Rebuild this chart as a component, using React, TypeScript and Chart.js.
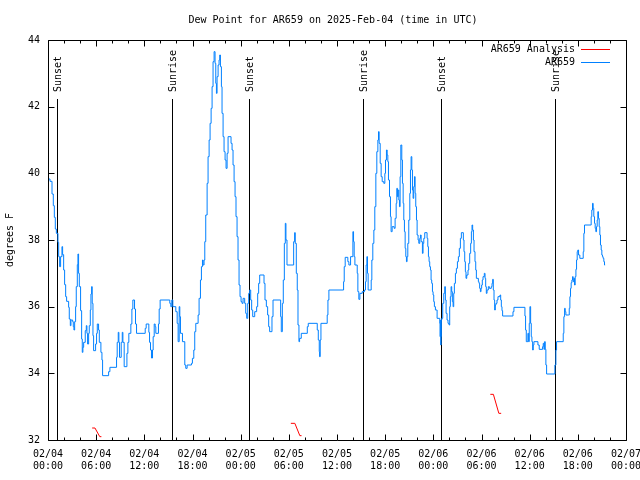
import React, { useEffect, useRef } from 'react';
import { Chart, registerables } from 'chart.js';

Chart.register(...registerables);

const FONT = '"DejaVu Sans Mono", "Liberation Mono", monospace';

const titleText = 'Dew Point for AR659 on 2025-Feb-04 (time in UTC)';
const yAxisTitle = 'degrees F';

// hours since 2025-02-04 00:00 UTC
const obsHours = [
  0, 0.25, 0.5, 0.66, 0.79, 0.91, 1.04, 1.24, 1.33, 1.45, 1.57, 1.74, 1.82, 1.95, 2.07, 2.2, 2.32, 2.57, 2.65, 2.78,
  2.86, 3.07, 3.15, 3.23, 3.32, 3.44, 3.52, 3.65, 3.73, 3.81, 3.9, 4.06, 4.19, 4.27, 4.35, 4.44, 4.64, 4.77, 4.85, 4.93,
  5.06, 5.14, 5.27, 5.35, 5.43, 5.51, 5.6, 5.68, 5.93, 6.05, 6.14, 6.3, 6.39, 6.59, 6.72, 6.8, 7.55, 7.71, 8.54, 8.62,
  8.75, 8.83, 8.91, 9.12, 9.25, 9.33, 9.49, 9.83, 9.95, 10.07, 10.32, 10.45, 10.57, 10.78, 10.9, 11.03, 12.11, 12.23, 12.56, 12.65,
  12.77, 12.89, 13.02, 13.1, 13.23, 13.35, 13.43, 13.76, 13.85, 13.97, 15.17, 15.3, 15.42,
  15.55, 15.92, 16.09, 16.21, 16.34, 16.42, 16.5, 16.75, 17.04, 17.16, 17.33, 17.87, 17.99, 18.16, 18.28, 18.41, 18.7, 18.82, 18.99, 19.11,
  19.24, 19.32, 19.44, 19.53, 19.65, 19.82, 19.94, 20.07, 20.19, 20.32, 20.44, 20.56, 20.69, 20.81, 20.9, 20.98, 21.06, 21.19, 21.31, 21.39,
  21.48, 21.6, 21.68, 21.81, 21.93, 22.06, 22.18, 22.31, 22.43, 22.8, 22.93, 23.05, 23.18, 23.3, 23.42, 23.55, 23.67, 23.8, 23.92, 24.05,
  24.17, 24.3, 24.5, 24.63, 24.75, 24.88, 25.0, 25.12, 25.25, 25.37, 25.5, 25.75, 25.99, 26.12, 26.24, 26.37, 26.91, 27.03, 27.2, 27.36,
  27.49, 27.61, 27.9, 28.03, 28.98, 29.06, 29.19, 29.31, 29.44, 29.56, 29.64, 29.77, 30.6, 30.72, 30.8, 30.93, 31.05, 31.14, 31.26, 31.34,
  31.55, 32.3, 32.42, 33.54, 33.67, 33.79,
  33.83, 33.91, 34.0, 34.78, 34.87, 34.99, 36.82, 36.9, 37.02, 37.35, 37.48, 37.69, 37.98, 38.06, 38.14, 38.23, 38.52, 38.6, 38.72, 38.85,
  39.14, 39.43, 39.55, 39.63, 39.72, 39.8, 39.88, 40.26, 40.34, 40.46, 40.59, 40.71, 40.84, 40.96, 41.09, 41.17, 41.25, 41.38, 41.5, 41.63,
  41.83, 41.96, 42.04, 42.16, 42.25, 42.33, 42.41, 42.54, 42.66, 42.74, 42.87, 43.12, 43.24, 43.37, 43.45, 43.53, 43.62, 43.7, 43.78, 43.86,
  43.95, 44.07, 44.15, 44.24, 44.32, 44.4, 44.49, 44.57, 44.65, 44.73, 44.82, 44.94, 45.07, 45.15, 45.23, 45.32, 45.4, 45.48, 45.56, 45.65,
  45.73, 45.81, 45.9, 45.98, 46.1, 46.19, 46.31, 46.39, 46.48, 46.64, 46.72, 46.81, 46.93, 47.22, 47.31, 47.39, 47.47, 47.55, 47.64, 47.72,
  47.8, 47.89, 47.97, 48.05, 48.13, 48.26, 48.47, 48.8, 48.84, 48.88, 48.92, 48.96, 49.0, 49.05, 49.17, 49.3, 49.42, 49.5, 49.59, 49.71,
  49.83, 49.96, 50.04, 50.12, 50.21, 50.29, 50.37, 50.46, 50.54, 50.62, 50.75, 50.87, 51.0, 51.12, 51.24, 51.37, 51.49,
  51.74, 51.82, 51.91, 51.99, 52.07, 52.16, 52.32, 52.41, 52.53, 52.65, 52.74, 52.82, 52.9, 52.99, 53.07, 53.19, 53.28, 53.36, 53.61, 53.69,
  53.77, 53.86, 53.94, 54.02, 54.1, 54.19, 54.35, 54.44, 54.52, 54.6, 54.69, 54.85, 54.98, 55.22, 55.31, 55.39, 55.47, 55.56, 55.64, 55.72,
  55.8, 55.93, 56.05, 56.3, 56.39, 56.47, 56.55, 56.63, 57.92, 58.04, 59.41, 59.49, 59.58, 59.78, 59.87, 59.95, 60.03, 60.12, 60.2, 60.28,
  60.37, 60.45, 60.53, 61.03, 61.19, 61.61, 61.69, 61.78, 61.86, 61.94, 62.02, 62.11, 63.14, 63.27, 63.35, 64.18, 64.26, 64.35, 64.43, 64.51,
  64.84, 64.93, 65.01, 65.09, 65.17, 65.26, 65.34, 65.42, 65.51, 65.59, 65.67, 65.76, 65.84, 65.92, 66.0, 66.09, 66.25, 66.67, 66.75, 66.83,
  67.66, 67.74, 67.83, 67.91, 67.99, 68.08, 68.16, 68.24, 68.33, 68.41, 68.49, 68.57, 68.66, 68.74, 68.82, 68.91, 68.99, 69.07, 69.15, 69.24,
  69.32, 69.4,
];

const obsDewF = [
  39.83, 39.76, 39.38, 39.03, 38.68, 38.33, 38.2, 37.93, 37.5, 37.2, 37.5, 37.8, 37.56, 37.1, 36.66, 36.3, 36.16, 35.98, 35.63, 35.43,
  35.6, 35.55, 35.4, 35.3, 35.55, 36.0, 36.6, 37.26, 37.58, 37.0, 36.6, 35.88, 35.03, 34.63, 34.78, 34.93, 35.28, 35.43, 35.2, 34.88,
  35.2, 35.43, 35.9, 36.38, 36.6, 36.1, 35.13, 34.68, 34.88, 35.2, 35.48, 35.3, 34.93, 34.63, 34.4, 33.93, 34.05, 34.18, 34.48, 34.93,
  35.23, 34.93, 34.48, 34.93, 35.23, 34.93, 34.2, 34.6, 34.93, 35.2, 35.48, 35.93, 36.2, 35.93, 35.48, 35.2, 35.35, 35.48, 35.23, 34.93,
  34.7, 34.46, 34.7, 35.1, 35.48, 35.4, 35.2, 35.48, 35.93, 36.2, 36.1, 36.0, 36.2,
  36.0, 35.85, 35.5, 34.95, 36.0, 35.7, 35.2, 34.95, 34.25, 34.15, 34.25, 34.3, 34.45, 34.7, 35.25, 35.5, 35.75, 36.25, 36.8, 37.2,
  37.4, 37.25, 37.4, 37.95, 38.75, 39.7, 40.5, 41.0, 41.5, 41.95, 42.6, 43.35, 43.65, 43.3, 42.7, 42.4, 42.9, 43.25, 43.4, 43.55,
  43.2, 42.6, 41.8, 41.1, 40.65, 40.4, 40.15, 40.6, 41.1, 40.9, 40.7, 40.25, 39.75, 39.3, 38.7, 38.1, 37.4, 36.65, 36.3, 36.15,
  36.1, 36.25, 36.1, 35.8, 35.65, 36.1, 36.4, 36.5, 36.2, 35.9, 35.7, 35.85, 36.0, 36.4, 36.7, 36.95, 36.7, 36.2, 36.0, 35.75,
  35.4, 35.25, 35.7, 36.2, 35.7, 35.25, 36.1, 36.8, 37.9, 38.5, 38.0, 37.25, 37.95, 38.22, 37.9, 37.0, 36.5, 35.45, 34.95, 35.05,
  35.2, 35.4, 35.5, 35.3, 35.0, 34.65,
  34.5, 35.0, 35.5, 35.75, 36.2, 36.5, 36.75, 37.2, 37.48, 37.35, 37.25, 37.5, 38.25, 37.95, 37.5, 37.25, 37.0, 36.45, 36.22, 36.4,
  36.45, 36.5, 36.75, 37.25, 37.5, 37.0, 36.5, 36.8, 37.4, 37.9, 38.3, 39.0, 40.0, 40.65, 41.0, 41.25, 40.9, 40.3, 39.9, 39.75,
  39.7, 40.0, 40.4, 40.7, 40.55, 40.35, 39.8, 39.3, 38.7, 38.25, 38.4, 38.35, 38.65, 39.1, 39.55, 39.3, 39.5, 39.2, 39.0, 39.9,
  40.85, 40.4, 39.7, 39.1, 38.6, 38.25, 37.75, 37.5, 37.35, 37.5, 37.9, 38.6, 39.4, 40.1, 40.5, 40.1, 39.5, 39.25, 39.6, 39.9,
  39.4, 39.0, 38.6, 38.15, 38.0, 37.9, 38.05, 38.15, 37.95, 37.6, 37.9, 38.05, 38.22, 38.05, 37.8, 37.5, 37.35, 37.2, 37.1, 36.8,
  36.7, 36.45, 36.35, 36.15, 36.0, 35.9, 35.65, 35.5, 35.1, 35.6, 34.85, 35.1, 35.6, 35.65, 36.1, 36.4, 36.6, 36.2, 35.8, 35.6,
  35.5, 35.45, 36.0, 36.3, 36.6, 36.45, 36.15, 36.0, 36.4, 36.7, 37.0, 37.15, 37.35, 37.5, 37.75, 38.05, 38.22,
  38.0, 37.65, 37.35, 37.05, 36.85, 36.95, 37.1, 37.3, 37.6, 37.9, 38.25, 38.45, 38.3, 38.0, 37.65, 37.35, 37.1, 36.85, 36.75, 36.7,
  36.55, 36.45, 36.55, 36.65, 36.8, 36.9, 37.0, 36.85, 36.6, 36.4, 36.5, 36.6, 36.55, 36.6, 36.7, 36.82, 36.5, 36.2, 35.9, 36.05,
  36.1, 36.2, 36.3, 36.35, 36.2, 36.0, 35.88, 35.72, 35.85, 35.98, 35.72, 35.3, 34.95, 35.2, 34.95, 35.5, 36.0, 35.5, 35.1, 34.95,
  34.7, 34.85, 34.95, 34.85, 34.72, 34.8, 34.9, 34.72, 34.95, 34.72, 34.25, 33.98, 34.25, 34.7, 34.95, 35.2, 35.7, 35.95, 35.85, 35.75,
  35.75, 35.95, 36.3, 36.55, 36.72, 36.8, 36.9, 36.75, 36.85, 36.65, 36.9, 37.12, 37.4, 37.65, 37.7, 37.55, 37.45, 37.65, 38.2, 38.45,
  38.7, 38.9, 39.1, 38.95, 38.7, 38.5, 38.35, 38.25, 38.4, 38.6, 38.85, 38.65, 38.4, 38.15, 37.85, 37.7, 37.55, 37.5, 37.45, 37.35,
  37.25, 37.25,
];

const anaHours = [5.5, 5.85, 6.45, 6.65, 6.7, 30.25, 30.75, 31.37, 31.58, 31.6, 55.1, 55.48, 56.16, 56.45];
const anaDewF = [32.36, 32.36, 32.1, 32.1, null, 32.5, 32.5, 32.13, 32.13, null, 33.37, 33.37, 32.8, 32.8];

const xTickDates = ['02/04', '02/04', '02/04', '02/04', '02/05', '02/05', '02/05', '02/05', '02/06', '02/06', '02/06', '02/06', '02/07'];
const xTickTimes = ['00:00', '06:00', '12:00', '18:00', '00:00', '06:00', '12:00', '18:00', '00:00', '06:00', '12:00', '18:00', '00:00'];

const sunHours = [1.16, 15.41, 25.07, 39.2, 48.99, 63.1];
const sunLabels = ['Sunset', 'Sunrise', 'Sunset', 'Sunrise', 'Sunset', 'Sunrise'];

const decorPlugin = {
  id: 'gnuplotDecor',
  beforeDatasetsDraw(chart: any) {
    const { ctx, chartArea: a, scales } = chart;
    const xs = scales.x;
    ctx.save();
    ctx.strokeStyle = '#000';
    ctx.fillStyle = '#000';
    ctx.lineWidth = 1;
    ctx.font = `10px ${FONT}`;
    sunHours.forEach((h, i) => {
      const px = Math.round(xs.getPixelForValue(h)) + 0.5;
      ctx.beginPath();
      ctx.moveTo(px, a.top + 59);
      ctx.lineTo(px, a.bottom);
      ctx.stroke();
      ctx.save();
      ctx.translate(px + 1, a.top + 52);
      ctx.rotate(-Math.PI / 2);
      ctx.textAlign = 'left';
      ctx.textBaseline = 'middle';
      ctx.fillText(sunLabels[i], 0, 0);
      ctx.restore();
    });
    ctx.restore();
  },
  afterDatasetsDraw(chart: any) {
    const { ctx, chartArea: a, scales } = chart;
    const xs = scales.x;
    const ys = scales.y;
    ctx.save();
    ctx.strokeStyle = '#000';
    ctx.lineWidth = 1;
    const L = Math.round(a.left) + 0.5;
    const R = Math.round(a.right) + 0.5;
    const T = Math.round(a.top) + 0.5;
    const B = Math.round(a.bottom) + 0.5;
    ctx.beginPath();
    ctx.rect(L, T, R - L, B - T);
    // x ticks: major every 6 h, minor every 2 h
    for (let h = 0; h <= 72; h += 2) {
      const px = Math.round(xs.getPixelForValue(h)) + 0.5;
      const len = h % 6 === 0 ? 6 : 3;
      ctx.moveTo(px, B);
      ctx.lineTo(px, B - len);
      ctx.moveTo(px, T);
      ctx.lineTo(px, T + len);
    }
    for (let v = 32; v <= 44; v += 2) {
      const py = Math.round(ys.getPixelForValue(v)) + 0.5;
      ctx.moveTo(L, py);
      ctx.lineTo(L + 6, py);
      ctx.moveTo(R, py);
      ctx.lineTo(R - 6, py);
    }
    ctx.stroke();
    ctx.restore();
  },
  afterDraw(chart: any) {
    const { ctx } = chart;
    ctx.save();
    ctx.fillStyle = '#000';
    ctx.font = `10px ${FONT}`;
    ctx.textAlign = 'center';
    ctx.textBaseline = 'middle';
    ctx.fillText(titleText, 333, 20);
    // legend (gnuplot style: text then line sample)
    ctx.textAlign = 'right';
    chart.data.datasets.forEach((ds: any, i: number) => {
      const y = 49 + i * 13;
      ctx.fillStyle = '#000';
      ctx.fillText(ds.label, 575, y);
      ctx.strokeStyle = ds.borderColor;
      ctx.lineWidth = 1;
      ctx.beginPath();
      ctx.moveTo(581, y + 0.5);
      ctx.lineTo(610, y + 0.5);
      ctx.stroke();
    });
    ctx.restore();
  },
};

export default function App() {
  const canvasRef = useRef<HTMLCanvasElement | null>(null);

  useEffect(() => {
    document.body.style.margin = '0';
    const canvas = canvasRef.current;
    if (!canvas) return;
    const font = { family: FONT, size: 10, lineHeight: 1.2 };
    const chart = new Chart(canvas, {
      type: 'line',
      data: {
        datasets: [
          {
            label: 'AR659 Analysis',
            data: anaHours.map((h, i) => ({ x: h, y: anaDewF[i] })),
            borderColor: '#ff0000',
            borderWidth: 1,
            pointRadius: 0,
            spanGaps: false,
            fill: false,
          },
          {
            label: 'AR659',
            data: obsHours.map((h, i) => ({ x: h, y: obsDewF[i] })),
            borderColor: '#0080ff',
            borderWidth: 1,
            pointRadius: 0,
            stepped: true,
            fill: false,
          },
        ],
      },
      options: {
        responsive: false,
        animation: false,
        layout: { padding: { left: 0, right: 14, top: 40, bottom: 0 } },
        plugins: {
          legend: { display: false },
          title: { display: false },
          tooltip: { enabled: false },
        },
        scales: {
          x: {
            type: 'linear',
            min: 0,
            max: 72,
            grid: { display: false, drawTicks: false },
            border: { display: false },
            ticks: {
              stepSize: 6,
              autoSkip: false,
              maxRotation: 0,
              minRotation: 0,
              padding: 8,
              color: '#000',
              font,
              callback: (v: any) => {
                const i = Math.round(Number(v) / 6);
                return [xTickDates[i], xTickTimes[i]];
              },
            },
            afterFit: (s: any) => {
              s.height = 40;
              s.paddingLeft = 0;
              s.paddingRight = 0;
            },
          },
          y: {
            min: 32,
            max: 44,
            grid: { display: false, drawTicks: false },
            border: { display: false },
            ticks: { stepSize: 2, padding: 8, color: '#000', font },
            title: { display: true, text: yAxisTitle, color: '#000', font, padding: { top: 4, bottom: 0 } },
            afterFit: (s: any) => {
              s.width = 48;
            },
          },
        },
      },
      plugins: [decorPlugin],
    } as any);
    return () => chart.destroy();
  }, []);

  return (
    <div style={{ position: 'fixed', left: 0, top: 0, width: 640, height: 480, background: '#fff' }}>
      <canvas ref={canvasRef} width={640} height={480} style={{ display: 'block' }} />
    </div>
  );
}
